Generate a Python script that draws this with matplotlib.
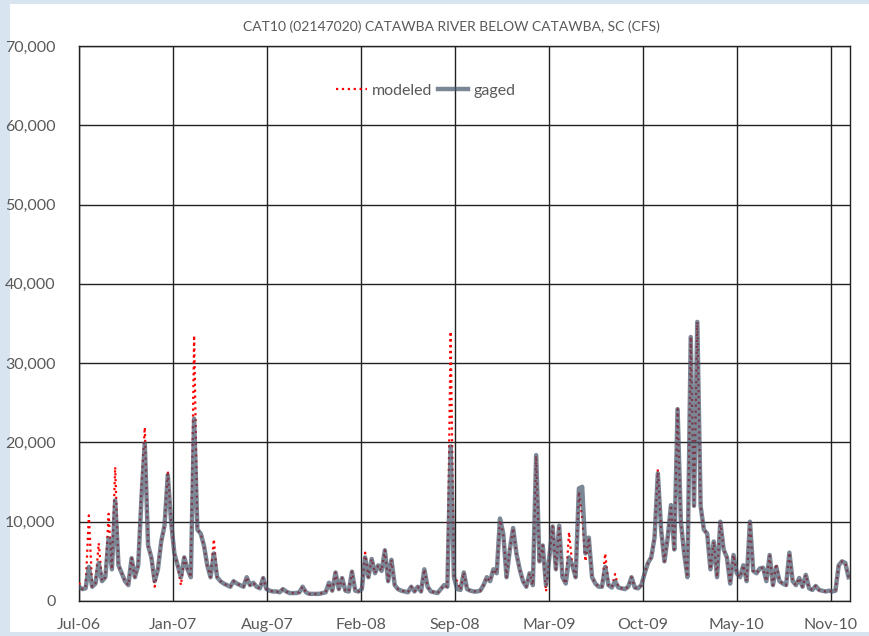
# Catawba River below Catawba, SC - modeled vs gaged daily flow (weekly values)

import numpy as np
import matplotlib
matplotlib.use('Agg')
import matplotlib.pyplot as plt
import matplotlib.dates as mdates
import matplotlib.patches as patches
from matplotlib.ticker import FuncFormatter
import pandas as pd

# Flow in cfs, one value per week starting 1 Jul 2006
gaged = [1800, 1500, 1600, 4300, 1800, 2200, 4800, 2500, 3000, 7900,
         4000, 12700, 4500, 3500, 2500, 2000, 5400, 3000, 4500, 13000,
         19900, 7000, 5500, 2500, 4000, 7500, 9500, 15900, 10000, 6000,
         4500, 3000, 5500, 4000, 3000, 23000, 9000, 8500, 7000, 4500,
         3000, 6000, 3000, 2500, 2200, 2000, 1800, 2500, 2200, 2000,
         1800, 3000, 2000, 2300, 1800, 1600, 2900, 1500, 1300, 1200,
         1200, 1100, 1500, 1200, 1000, 1000, 1000, 1100, 1800, 1100,
         900, 900, 900, 900, 1000, 1100, 2300, 1300, 3600, 1500,
         2900, 1300, 1200, 3700, 1300, 1200, 1500, 5500, 3000, 5300,
         3500, 4500, 3800, 6400, 2500, 5200, 2000, 1500, 1300, 1200,
         1100, 1800, 1200, 1800, 1200, 4000, 1800, 1200, 1100, 1000,
         1500, 2000, 1800, 19500, 3000, 1500, 1400, 3600, 1500, 1300,
         1200, 1200, 1300, 2000, 3000, 2500, 4000, 3500, 10400, 8500,
         3000, 6500, 9200, 6000, 4000, 2500, 1800, 3500, 2000, 18400,
         5000, 7000, 2000, 5500, 9400, 4000, 9500, 3000, 2200, 5500,
         4500, 3000, 14200, 14400, 6000, 8000, 3000, 2200, 1800, 1800,
         4300, 2000, 1700, 2500, 1700, 1600, 1500, 1800, 3000, 1700,
         1600, 2000, 3500, 4800, 5500, 8000, 16100, 9000, 5000, 8000,
         12100, 6500, 24200, 10000, 6000, 3000, 33300, 12000, 35200, 12000,
         9000, 8500, 4000, 7500, 3000, 10000, 6500, 5500, 2200, 5800,
         3500, 3000, 4500, 2500, 10000, 3800, 3500, 4100, 4200, 2500,
         5800, 2000, 4300, 2500, 2200, 2000, 6100, 2500, 2000, 2900,
         1800, 3300, 1600, 1400, 1900, 1400, 1300, 1200, 1300, 1200,
         1300, 4500, 5000, 4800, 3000]

modeled = [2300, 1500, 1600, 10800, 1800, 2200, 7300, 2500, 3000, 11000,
           4000, 16900, 4500, 3500, 2500, 2000, 5400, 3000, 4500, 14400,
           21900, 7000, 5500, 1800, 4000, 7500, 9500, 16400, 10000, 6000,
           4500, 2000, 5500, 4000, 3000, 33500, 9000, 8500, 7000, 4500,
           3000, 7800, 3000, 2500, 2200, 2000, 1800, 2500, 2200, 2000,
           1800, 3000, 2000, 2300, 1800, 1600, 2900, 1500, 1300, 1200,
           1200, 1100, 1500, 1200, 1000, 1000, 1000, 1100, 1800, 1100,
           900, 900, 900, 900, 1000, 1100, 2300, 1300, 3600, 1500,
           2900, 1300, 1200, 3700, 1300, 1200, 1500, 6100, 3000, 5300,
           3500, 4500, 3800, 6400, 2500, 5200, 2000, 1500, 1300, 1200,
           1100, 1800, 1200, 1800, 1200, 4000, 1800, 1200, 1100, 1000,
           1500, 2000, 1800, 34000, 3000, 2500, 1400, 3600, 1500, 1300,
           1200, 1200, 1300, 2000, 3000, 2500, 4000, 3500, 10200, 8500,
           3000, 6500, 9200, 6000, 4000, 2500, 1800, 3500, 2000, 18300,
           5000, 7000, 1200, 5500, 9400, 4000, 9500, 3000, 2200, 8700,
           4500, 3000, 13800, 10500, 5000, 8000, 3000, 2200, 1800, 1800,
           6000, 2000, 1700, 3400, 1700, 1600, 1500, 1800, 3000, 1700,
           1600, 2000, 3500, 4800, 5500, 8000, 16600, 9000, 5000, 8000,
           12100, 6500, 24200, 10000, 6000, 3000, 33300, 12000, 35200, 12000,
           9000, 8500, 4000, 7500, 3000, 10000, 6500, 5500, 2200, 5800,
           3500, 3000, 4500, 2500, 10100, 3800, 3500, 4100, 4200, 2500,
           5700, 2000, 4700, 2500, 2200, 2000, 6100, 2500, 2000, 2900,
           1800, 3300, 1600, 1400, 1900, 1400, 1300, 1200, 1300, 1200,
           1300, 4500, 5000, 4800, 3000]

start = pd.Timestamp('2006-07-01')
dates = pd.date_range(start, periods=len(gaged), freq='7D')

title = 'CAT10 (02147020) CATAWBA RIVER BELOW CATAWBA, SC (CFS)'
text_color = '#595959'
plt.rcParams['font.family'] = ['Lato', 'DejaVu Sans']

fig = plt.figure(figsize=(8.69, 6.36), dpi=100)
fig.patch.set_facecolor('#d8e5f1')
fig.add_artist(patches.Rectangle((10/869, 4/636), 1 - 10/869, 628/636,
                                 transform=fig.transFigure, facecolor='white',
                                 edgecolor='none', zorder=0))

ax = fig.add_axes([79/869, 35/636, 771/869, 555/636])
ax.set_facecolor('white')

ax.plot(dates, modeled, color='#ff0000', linestyle=':', linewidth=1.6,
        label='modeled', zorder=3)
ax.plot(dates, gaged, color='#44546a', alpha=0.7, linewidth=3.2,
        label='gaged', zorder=4)

# axis limits and ticks (Excel style: label every 200 days)
ax.set_ylim(0, 70000)
ax.set_yticks(np.arange(0, 70001, 10000))
ax.yaxis.set_major_formatter(FuncFormatter(lambda v, p: f'{v:,.0f}'))
ax.set_xlim(start, start + pd.Timedelta(days=1641))
ax.set_xticks([start + pd.Timedelta(days=200 * k) for k in range(9)])
ax.xaxis.set_major_formatter(mdates.DateFormatter('%b-%y'))

ax.grid(True, color='#222222', linewidth=1.0)
ax.set_axisbelow(True)
for s in ax.spines.values():
    s.set_color('#222222')
    s.set_linewidth(1.0)
ax.tick_params(axis='both', length=0, colors=text_color, labelsize=11.5)
ax.tick_params(axis='y', pad=17)
ax.tick_params(axis='x', pad=12)

fig.text(451/869, 1 - 27/636, title, ha='center', va='center',
         color=text_color, fontsize=10)

ax.legend(loc='center', bbox_to_anchor=(0.45, 0.919), ncol=2, frameon=False,
          fontsize=11.5, labelcolor=text_color, handlelength=1.9,
          handletextpad=0.35, columnspacing=0.3)

plt.savefig('out.png', dpi=100, facecolor=fig.get_facecolor())
